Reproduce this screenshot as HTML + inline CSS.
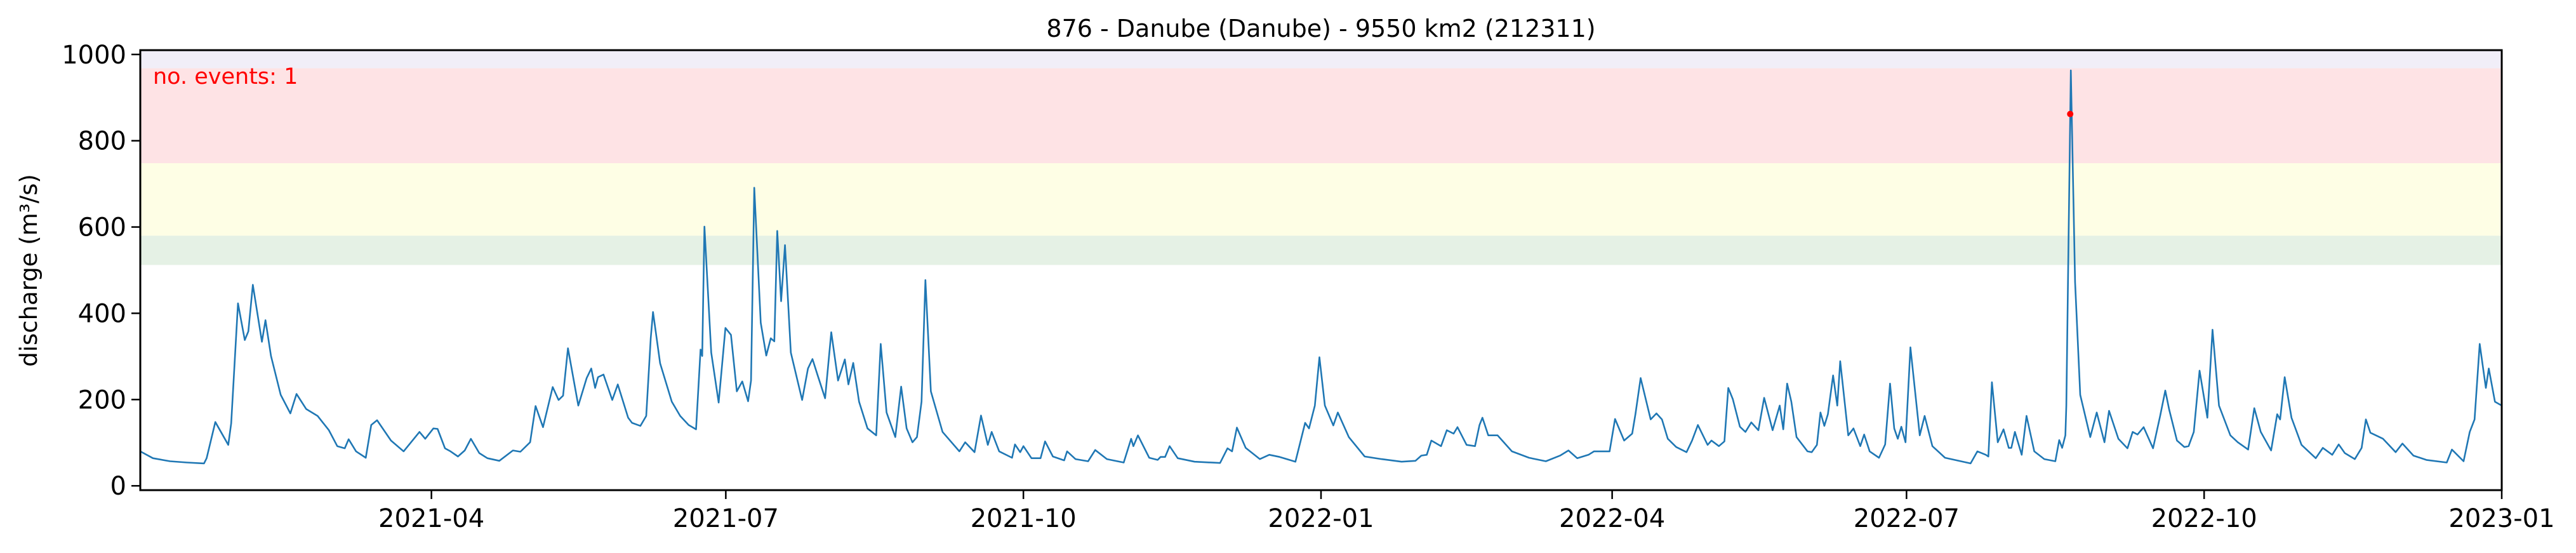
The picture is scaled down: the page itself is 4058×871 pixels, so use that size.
<!DOCTYPE html>
<html><head><meta charset="utf-8"><style>
html,body{margin:0;padding:0;background:#fff;}
svg{display:block;font-family:"DejaVu Sans","Liberation Sans",sans-serif;}
</style></head><body>
<svg id="chart" width="4058" height="871" viewBox="0 0 4058 871" xmlns="http://www.w3.org/2000/svg">
<g id="bands"></g>
<g id="series"></g>
<g id="axes"></g>
<text x="2081" y="58" font-size="38" text-anchor="middle">876 - Danube (Danube) - 9550 km2 (212311)</text>
<text x="241" y="132" font-size="35" fill="#ff0000">no. events: 1</text>
<text transform="translate(58,426) rotate(-90)" font-size="37" text-anchor="middle">discharge (m³/s)</text>
</svg>
<script>
const dayIdx = [0,3.9,9.2,14.5,19.7,20.5,23.2,27.2,28.1,30.2,32.3,33.4,34.8,37.6,38.7,40.4,43.4,46.4,48.3,51.3,54.8,58.3,60.9,63.2,64.4,66.7,69.7,71.4,73.2,77.5,81.4,86.3,88.1,90.6,91.9,94.2,95.9,98.2,100.3,102.2,104.8,107.3,111.0,115.2,117.5,120.5,122.2,124.5,127.5,129.3,130.7,132.2,135.4,138.0,139.4,140.6,141.5,143.2,145.9,147.6,150.8,152.0,154.6,156.4,157.8,158.5,160.7,164.3,166.9,169.5,171.8,173.2,173.7,174.4,176.5,178.8,180.9,182.6,184.4,186.1,187.9,188.8,189.8,191.8,193.5,194.9,196.0,196.9,198.1,199.3,201.1,204.6,206.4,207.8,209.4,211.7,213.6,215.7,217.8,218.9,220.4,222.2,224.8,227.5,228.9,230.7,233.4,235.2,236.9,238.7,240.1,241.5,242.7,244.4,248.0,253.2,255.0,257.9,259.9,262.0,263.2,265.5,269.5,270.4,272.0,273.0,275.5,278.3,279.7,282.1,285.6,286.5,289.1,293.0,295.2,298.8,304.0,306.3,307.0,308.4,311.9,314.5,315.4,316.8,318.2,320.7,325.9,333.8,336.1,337.5,339.0,341.7,346.1,349.0,352.2,357.1,360.1,361.3,363.1,364.5,366.2,368.8,370.2,373.6,378.5,383.7,389.9,394.2,396.0,397.7,399.1,402.1,403.9,406.0,407.2,410.0,412.6,414.0,414.9,416.7,419.6,424.0,429.3,434.5,438.9,441.5,444.2,447.7,449.4,454.2,455.9,458.7,461.2,462.2,463.8,466.9,468.7,470.4,472.2,474.8,478.0,479.7,481.5,484.5,485.7,488.0,489.7,490.9,492.3,494.5,496.2,498.0,500.2,502.0,504.6,506.8,507.9,509.1,510.4,512.0,515.4,516.7,518.3,519.4,520.6,521.7,523.3,524.6,525.5,528.0,529.6,531.7,532.9,534.6,537.5,539.4,540.9,542.2,543.3,544.4,545.7,547.2,550.1,551.6,554.0,557.9,565.8,567.9,570.5,571.3,572.4,574.2,576.0,577.6,578.4,579.5,581.6,583.1,585.5,588.6,592.0,593.2,594.1,595.1,595.4,596.8,598.1,599.7,602.8,604.8,607.2,608.6,611.5,614.3,615.9,617.4,619.3,622.2,624.4,626.0,627.2,629.6,631.9,633.2,634.8,636.6,639.0,640.6,642.6,646.1,648.4,651.6,653.5,655.5,658.7,660.6,661.5,662.9,665.0,668.1,672.5,674.7,677.6,679.6,681.5,684.6,686.7,688.0,689.4,693.3,697.2,699.3,702.7,706.7,713.0,714.6,718.2,720.1,721.6,723.2,725.1,726.0,727.9,730.0];
const discharge = [80,64,57,54,52,64,148,95,145,423,338,358,466,334,384,301,211,168,213,178,162,129,92,87,108,80,65,141,152,105,80,125,109,133,132,87,80,68,82,109,76,64,58,82,79,101,185,136,229,199,209,319,186,250,272,227,252,258,199,235,158,146,139,162,342,403,284,195,162,141,131,316,301,601,309,193,366,350,219,242,196,244,691,378,302,342,335,591,428,558,309,199,272,294,256,203,356,244,293,235,285,195,133,117,329,170,113,230,133,101,113,195,477,219,125,80,101,78,163,95,125,80,65,96,78,92,64,64,103,68,59,80,62,57,83,62,54,109,92,117,65,60,67,67,92,64,56,53,87,80,135,88,62,72,67,56,146,133,186,298,186,140,170,113,68,62,56,58,70,72,105,92,129,121,136,95,92,141,158,117,117,80,65,57,70,82,64,72,80,80,155,105,121,166,250,154,168,154,109,90,78,105,141,95,105,92,103,227,201,137,125,147,129,204,129,186,131,237,195,113,80,78,95,170,139,166,256,186,289,117,133,92,119,80,65,96,237,133,109,137,101,321,117,162,92,65,52,80,72,68,240,101,131,88,88,125,72,162,80,62,57,106,88,117,186,963,472,211,113,170,101,174,109,87,125,119,136,87,162,221,177,105,90,92,125,267,158,362,186,117,101,84,180,125,82,166,154,252,158,95,64,88,72,96,76,62,88,154,123,109,78,98,70,60,54,84,57,125,154,329,227,272,195,186];
const eventDays = [596.6];
const eventValues = [862];
const yTicks = [0,200,400,600,800,1000];
const xTickDays = [90,181,273,365,455,546,638,730];
const xTickLabels = ["2021-04","2021-07","2021-10","2022-01","2022-04","2022-07","2022-10","2023-01"];
const bandLows = [512,580,748,968];
const bandHighs = [580,748,968,1010];
const bandColors = ["#e5f1e5","#fefee5","#fee3e5","#f1eef8"];

const L=221,R=3941,T=79,B=772, D0=0,D1=730, V0=-10,V1=1010;
const xs=d=>L+(d-D0)/(D1-D0)*(R-L);
const ys=v=>B-(v-V0)/(V1-V0)*(B-T);
const NS="http://www.w3.org/2000/svg";
function mk(tag,attrs,parent){const e=document.createElementNS(NS,tag);for(const k in attrs)e.setAttribute(k,attrs[k]);parent.appendChild(e);return e;}

const bands=document.getElementById('bands');
for(let i=0;i<bandLows.length;i++){
  const r=mk('rect',{x:L,y:ys(bandHighs[i]),width:R-L,height:ys(bandLows[i])-ys(bandHighs[i]),fill:bandColors[i]},bands);
  
  
}
const series=document.getElementById('series');
let dstr='';
for(let i=0;i<dayIdx.length;i++){dstr+=(i?'L':'M')+xs(dayIdx[i]).toFixed(1)+' '+ys(discharge[i]).toFixed(1);}
const line=mk('path',{d:dstr,fill:'none',stroke:'#1f77b4','stroke-width':2.6,'stroke-linejoin':'round'},series);


for(let i=0;i<eventDays.length;i++){
  const c=mk('circle',{cx:xs(eventDays[i]),cy:ys(eventValues[i]),r:5,fill:'#ff0000'},series);
  
  
}
const axes=document.getElementById('axes');
for(const v of yTicks){
  const y=ys(v);
  const t=mk('line',{x1:L-14,x2:L,y1:y,y2:y,stroke:'#000','stroke-width':2.5},axes);
  
  
  const tx=mk('text',{x:L-22,y:y+14,'font-size':40,'text-anchor':'end'},axes);
  tx.textContent=v;
  
  
}
for(let i=0;i<xTickDays.length;i++){
  const x=xs(xTickDays[i]);
  const t=mk('line',{x1:x,x2:x,y1:B,y2:B+14,stroke:'#000','stroke-width':2.5},axes);
  
  
  const tx=mk('text',{x:x,y:830,'font-size':40,'text-anchor':'middle'},axes);
  tx.textContent=xTickLabels[i];
  
  
}
const frame=mk('rect',{x:L,y:T,width:R-L,height:B-T,fill:'none',stroke:'#000','stroke-width':3},axes);


</script>
</body></html>
